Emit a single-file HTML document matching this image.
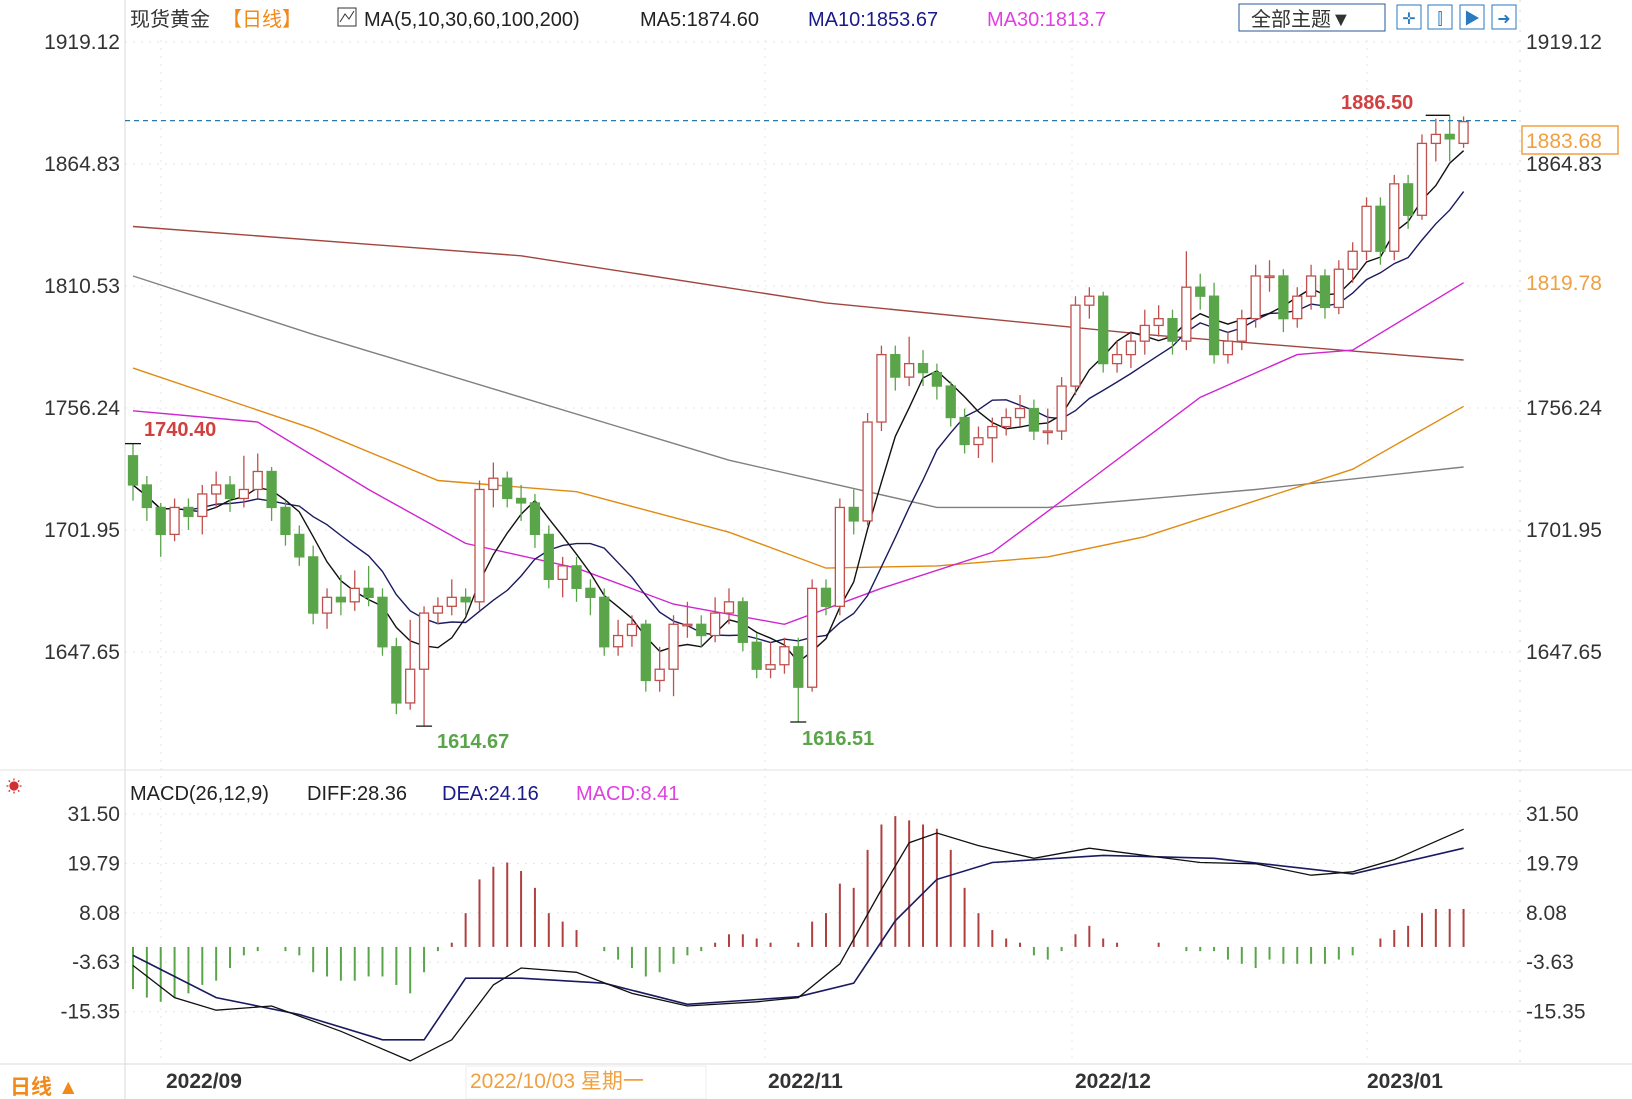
<!DOCTYPE html>
<html><head><meta charset="utf-8">
<style>
html,body{margin:0;padding:0;background:#fff;}
svg{display:block;font-family:"Liberation Sans","Noto Sans CJK SC",sans-serif;}
</style></head>
<body>
<svg id="chart" width="1632" height="1099" viewBox="0 0 1632 1099" xmlns="http://www.w3.org/2000/svg">
<rect x="0" y="0" width="1632" height="1099" fill="#fff"/>
<g id="grid"></g>
<g id="frame">
  <line x1="125" y1="0" x2="125" y2="1099" stroke="#d8d8d8"/>
  <line x1="1520" y1="0" x2="1520" y2="1064" stroke="#d8d8d8" stroke-dasharray="2,8"/>
  <line x1="0" y1="770" x2="1632" y2="770" stroke="#e2e2e2"/>
  <line x1="0" y1="1064" x2="1632" y2="1064" stroke="#d8d8d8"/>
</g>
<g font-size="20">
  <text x="130" y="26" fill="#333">现货黄金</text>
  <text x="222" y="26" fill="#f08a1a">【日线】</text>
  <rect x="338" y="8" width="18" height="18" fill="none" stroke="#333"/>
  <polyline points="340,22 345,14 349,19 354,11" fill="none" stroke="#333"/>
  <text x="364" y="26" fill="#222">MA(5,10,30,60,100,200)</text>
  <text x="640" y="26" fill="#222">MA5:1874.60</text>
  <text x="808" y="26" fill="#1a1a8a">MA10:1853.67</text>
  <text x="987" y="26" fill="#e040e0">MA30:1813.7</text>
</g>
<g>
  <rect x="1239" y="4" width="146" height="27" fill="#fff" stroke="#2a5a9a"/>
  <text x="1251" y="26" font-size="20" fill="#333">全部主题▼</text>
  <rect x="1397" y="5" width="24" height="24" fill="#fff" stroke="#2a7ac0"/>
  <rect x="1428" y="5" width="24" height="24" fill="#fff" stroke="#2a7ac0"/>
  <rect x="1460" y="5" width="24" height="24" fill="#fff" stroke="#2a7ac0"/>
  <rect x="1492" y="5" width="24" height="24" fill="#fff" stroke="#2a7ac0"/>
  <text x="1409" y="24" font-size="16" fill="#2a7ac0" text-anchor="middle">✛</text>
  <text x="1440" y="24" font-size="16" fill="#2a7ac0" text-anchor="middle">⫿</text>
  <text x="1472" y="24" font-size="16" fill="#2a7ac0" text-anchor="middle">▶</text>
  <text x="1504" y="24" font-size="16" fill="#2a7ac0" text-anchor="middle">➜</text>
</g>
<g font-size="20">
  <text x="130" y="800" fill="#222">MACD(26,12,9)</text>
  <text x="307" y="800" fill="#222">DIFF:28.36</text>
  <text x="442" y="800" fill="#1a1a8a">DEA:24.16</text>
  <text x="576" y="800" fill="#e040e0">MACD:8.41</text>
  <text x="6" y="792" font-size="16" fill="#d03030">☀</text>
</g>
<g id="axes"></g>
<g id="mas"></g>
<g id="candles"></g>
<g id="macd"></g>
<g id="ann"></g>
<g font-size="21" font-weight="bold" fill="#333">
  <text x="10" y="1094" fill="#f08a1a" font-weight="bold">日线 ▲</text>
  <text x="166" y="1088">2022/09</text>
  <rect x="466" y="1066" width="240" height="33" fill="#fff" stroke="#eee"/>
  <text x="470" y="1088" fill="#f0a040" font-weight="normal">2022/10/03 星期一</text>
  <text x="768" y="1088">2022/11</text>
  <text x="1075" y="1088">2022/12</text>
  <text x="1367" y="1088">2023/01</text>
</g>
<script>
const closes=[1722,1712,1700,1712,1708,1718,1722,1716,1720,1728,1712,1700,1690,1665,1672,1670,1676,1672,1650,1625,1640,1665,1668,1672,1670,1720,1725,1716,1714,1700,1680,1686,1676,1672,1650,1655,1660,1635,1640,1660,1660,1655,1665,1670,1652,1640,1642,1650,1632,1676,1668,1712,1706,1750,1780,1770,1776,1772,1766,1752,1740,1743,1748,1752,1756,1746,1746,1766,1802,1806,1776,1780,1786,1793,1796,1786,1810,1806,1780,1786,1796,1815,1815,1796,1806,1815,1801,1818,1826,1846,1826,1856,1842,1874,1878,1876,1883.68];
const opens=[1735,1722,1712,1700,1712,1708,1718,1722,1716,1720,1728,1712,1700,1690,1665,1672,1670,1676,1672,1650,1625,1640,1665,1668,1672,1670,1720,1725,1716,1714,1700,1680,1686,1676,1672,1650,1655,1660,1635,1640,1660,1660,1655,1665,1670,1652,1640,1642,1650,1632,1676,1668,1712,1706,1750,1780,1770,1776,1772,1766,1752,1740,1743,1748,1752,1756,1746,1746,1766,1802,1806,1776,1780,1786,1793,1796,1786,1810,1806,1780,1786,1796,1815,1815,1796,1806,1815,1801,1818,1826,1846,1826,1856,1842,1874,1878,1874];
const highs=[1740.4,1726,1714,1716,1716,1722,1728,1726,1735,1736,1730,1715,1704,1695,1676,1682,1684,1686,1676,1654,1662,1668,1672,1680,1676,1724,1732,1728,1722,1718,1704,1690,1690,1680,1676,1662,1664,1662,1650,1664,1670,1664,1672,1676,1672,1656,1652,1654,1654,1680,1680,1716,1720,1754,1784,1784,1788,1782,1776,1768,1756,1748,1752,1756,1762,1760,1756,1770,1806,1810,1808,1786,1790,1800,1802,1800,1826,1816,1812,1790,1800,1820,1822,1818,1810,1820,1818,1822,1830,1850,1850,1860,1860,1878,1885,1886.5,1886];
const lows=[1715,1706,1690,1697,1702,1700,1712,1710,1712,1716,1706,1695,1686,1660,1658,1664,1666,1668,1646,1620,1622,1614.67,1660,1664,1664,1666,1712,1712,1706,1694,1676,1672,1670,1664,1646,1646,1650,1630,1630,1628,1654,1650,1652,1660,1648,1636,1636,1638,1616.51,1630,1664,1664,1700,1704,1746,1764,1766,1766,1760,1748,1736,1734,1732,1744,1748,1742,1740,1742,1762,1796,1772,1772,1774,1780,1788,1780,1782,1800,1776,1776,1782,1792,1808,1790,1792,1800,1796,1798,1812,1822,1820,1822,1836,1840,1866,1866,1872];
const ma30Idx=[0,9,17,24,32,39,47,54,62,69,77,84,88,96];
const ma30Val=[1755,1750,1720,1696,1685,1669,1660,1676,1692,1724,1761,1780,1782,1812];
const ma60Idx=[0,13,22,32,43,50,58,66,73,81,88,96];
const ma60Val=[1774,1747,1724,1719,1701,1685,1686,1690,1699,1715,1729,1757];
const ma100Idx=[0,13,28,43,58,66,81,96];
const ma100Val=[1815,1789,1761,1733,1712,1712,1720,1730];
const ma200Idx=[0,28,50,73,96];
const ma200Val=[1837,1824,1803,1789,1777.6];
const macdHist=[-10,-12,-13,-12,-11,-9,-8,-5,-2,-1,0,-1,-2,-6,-7,-8,-8,-7,-7,-9,-11,-6,-1,1,8,16,19,20,18,14,8,6,4,0,-1,-3,-5,-7,-6,-4,-2,-1,1,3,3,2,1,0,1,6,8,15,14,23,29,31,30,29,28,23,14,8,4,2,1,-2,-3,-1,3,5,2,1,0,0,1,0,-1,-1,-1,-3,-4,-5,-3,-4,-4,-4,-4,-3,-2,0,2,4,5,8,9,9,9];
const diffIdx=[0,3,6,10,15,20,23,26,28,32,36,40,45,48,51,54,56,58,61,65,69,73,77,81,85,88,91,96];
const diffVal=[-4.4,-12,-15,-14,-20,-27,-22,-9,-5,-6,-11,-14,-13,-12,-4,13.6,24.7,27,24,21,23.4,21.7,20,19.7,17,17.8,20.7,27.9];
const deaIdx=[0,6,12,18,21,24,28,34,40,48,52,55,58,62,70,78,88,96];
const deaVal=[-2,-12,-16,-22,-22,-7.4,-7.4,-8.6,-13.6,-11.8,-8.6,6.2,16,20,21.7,21,17.3,23.4];
const priceTicks=["1919.12","1864.83","1810.53","1756.24","1701.95","1647.65"];
const macdTicks=["31.50","19.79","8.08","-3.63","-15.35"];

const NS="http://www.w3.org/2000/svg";
const xOf=i=>133+i*13.86;
const yP=p=>42+(1919.12-p)*2.2472;
const yM=v=>814+(31.5-v)*4.22;
function mk(tag,attrs,parent){const e=document.createElementNS(NS,tag);for(const k in attrs)e.setAttribute(k,attrs[k]);parent.appendChild(e);return e;}
const grid=document.getElementById('grid'),axes=document.getElementById('axes');
priceTicks.forEach((t,k)=>{const y=yP(parseFloat(t));
  const l=mk('line',{x1:125,x2:1520,y1:y,y2:y,stroke:'#e4e4e4','stroke-dasharray':'2,6'},grid);
  
  const a=mk('text',{x:120,y:y+7,'font-size':21,fill:'#333','text-anchor':'end'},axes);a.textContent=t;
  
  const b=mk('text',{x:1526,y:y+7,'font-size':21,fill:'#333'},axes);b.textContent=t;
  });
macdTicks.forEach(t=>{const y=yM(parseFloat(t));
  const l=mk('line',{x1:125,x2:1520,y1:y,y2:y,stroke:'#e4e4e4','stroke-dasharray':'2,6'},grid);
  
  const a=mk('text',{x:120,y:y+7,'font-size':21,fill:'#333','text-anchor':'end'},axes);a.textContent=t;
  
  const b=mk('text',{x:1526,y:y+7,'font-size':21,fill:'#333'},axes);b.textContent=t;
  });
[161,765,1072,1367].forEach(x=>{const l=mk('line',{x1:x,x2:x,y1:40,y2:1064,stroke:'#e4e4e4','stroke-dasharray':'2,6'},grid);
  });

const mas=document.getElementById('mas');
function poly(idx,val,col,name,yf,w){const pts=idx.map((i,k)=>xOf(i).toFixed(1)+','+yf(val[k]).toFixed(1)).join(' ');
  const p=mk('polyline',{points:pts,fill:'none',stroke:col,'stroke-width':w||1.4},mas);
  return p;}
poly(ma200Idx,ma200Val,'#a0463e','ma200-line',yP);
poly(ma100Idx,ma100Val,'#808080','ma100-line',yP);
poly(ma60Idx,ma60Val,'#e08a10','ma60-line',yP);
poly(ma30Idx,ma30Val,'#d024d0','ma30-line',yP);
function maCalc(n){return closes.map((c,i)=>{const s=closes.slice(Math.max(0,i-n+1),i+1);return s.reduce((a,b)=>a+b,0)/s.length;});}
const allIdx=closes.map((c,i)=>i);
poly(allIdx,maCalc(10),'#1a1a60','ma10-line',yP);
poly(allIdx,maCalc(5),'#111','ma5-line',yP);

const cg=document.getElementById('candles');
closes.forEach((c,i)=>{const o=opens[i],x=xOf(i),up=c>=o;const col=up?'#c0504d':'#5aa54a';
  const w=mk('line',{x1:x,x2:x,y1:yP(highs[i]),y2:yP(lows[i]),stroke:col,'stroke-width':1.3},cg);
  
  const top=yP(Math.max(o,c)),h=Math.max(1.5,Math.abs(yP(o)-yP(c)));
  const r=mk('rect',{x:x-4.5,y:top,width:9,height:h,fill:up?'#fff':col,stroke:col,'stroke-width':1.3},cg);
  });

const mg=document.getElementById('macd');
macdHist.forEach((v,i)=>{const x=xOf(i);const l=mk('line',{x1:x,x2:x,y1:yM(0),y2:yM(v),stroke:v>=0?'#b04040':'#5aa54a','stroke-width':2},mg);
  });
function mpoly(idx,val,col,name,w){const pts=idx.map((i,k)=>xOf(i).toFixed(1)+','+yM(val[k]).toFixed(1)).join(' ');
  const p=mk('polyline',{points:pts,fill:'none',stroke:col,'stroke-width':w},mg);}
mpoly(deaIdx,deaVal,'#1a1a60','dea-line',1.6);
mpoly(diffIdx,diffVal,'#111','diff-line',1.3);

const an=document.getElementById('ann');
const last=closes[closes.length-1];
const dl=mk('line',{x1:125,x2:1520,y1:yP(last)-1,y2:yP(last)-1,stroke:'#2a7aa8','stroke-dasharray':'5,4','stroke-width':1.3},an);

const bx=mk('rect',{x:1522,y:126,width:96,height:28,fill:'#fff','fill-opacity':0.85,stroke:'#f0a040','stroke-width':1.5},an);

const bg2=mk('rect',{x:1522,y:268,width:100,height:26,fill:'#fff'},an);

function txt(x,y,s,col,name,extra){const t=mk('text',Object.assign({x:x,y:y,'font-size':21,fill:col},extra||{}),an);t.textContent=s;
  return t;}
txt(1526,148,last.toFixed(2),'#f0a040','last-price-label');
txt(1526,290,'1819.78','#f0a040','ma-price-label');
txt(1341,109,'1886.50','#d04040','high-label',{'font-weight':'bold','font-size':20});
txt(144,436,'1740.40','#d04040','left-high-label',{'font-weight':'bold','font-size':20});
txt(437,748,'1614.67','#5aa54a','low-label-1',{'font-weight':'bold','font-size':20});
txt(802,745,'1616.51','#5aa54a','low-label-2',{'font-weight':'bold','font-size':20});
[[0,1740.4,0],[21,1614.67,1],[48,1616.51,1],[95,1886.5,-1]].forEach(a=>{const x=xOf(a[0]),y=yP(a[1]);
  const l=mk('line',{x1:x-8,x2:x+8,y1:y,y2:y,stroke:'#111','stroke-width':1.3},an);
  if(a[2]===-1){l.setAttribute('x1',x-24);l.setAttribute('x2',x);}
  });
</script>
</svg>
</body></html>
